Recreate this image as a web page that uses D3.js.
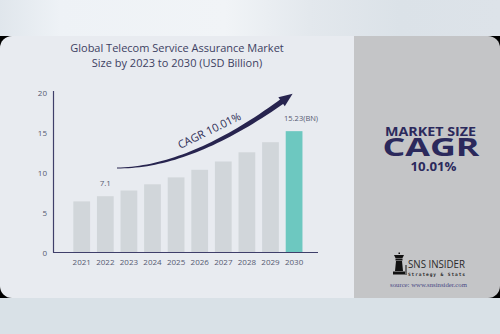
<!DOCTYPE html>
<html><head><meta charset="utf-8">
<script src="https://cdn.jsdelivr.net/npm/d3@7"></script>
<style>html,body{margin:0;padding:0;background:#dde3e9;}svg{display:block;}</style>
</head><body>
<script>
const years = ["2021","2022","2023","2024","2025","2026","2027","2028","2029","2030"];
const values = [6.45, 7.1, 7.81, 8.59, 9.45, 10.40, 11.44, 12.59, 13.85, 15.23];
const valueLabels = ["", "7.1", "", "", "", "", "", "", "", "15.23(BN)"];
const yTicks = [0, 5, 10, 15, 20];
const titleLines = ["Global Telecom Service Assurance Market", "Size by 2023 to 2030 (USD Billion)"];
const cagrText = "CAGR 10.01%";
const panelLines = ["MARKET SIZE", "CAGR", "10.01%"];

const W = 500, H = 334;
const svg = d3.select("body").append("svg").attr("width", W).attr("height", H);
const defs = svg.append("defs");

// background gradient
const bg = defs.append("linearGradient").attr("id","bg").attr("x1","0").attr("x2","1");
[["0","#e0e6ec"],["0.12","#eef2f6"],["0.45","#f1f4f7"],["0.62","#e3e8ed"],["0.8","#dbe2e8"],["1","#dde3e9"]]
  .forEach(s=>bg.append("stop").attr("offset",s[0]).attr("stop-color",s[1]));
svg.append("rect").attr("width",W).attr("height",H).attr("fill","url(#bg)");
svg.append("rect").attr("y",298).attr("width",W).attr("height",36).attr("fill","#d9e1e7");

// card
const cardY = 36, cardH = 262;
svg.append("rect").attr("x",0).attr("y",cardY).attr("width",W).attr("height",cardH).attr("fill","#000");
defs.append("clipPath").attr("id","card").append("rect")
  .attr("x",0).attr("y",cardY).attr("width",W).attr("height",cardH).attr("rx",12).attr("ry",12);
const card = svg.append("g").attr("clip-path","url(#card)");
card.append("rect").attr("x",0).attr("y",cardY).attr("width",354).attr("height",cardH).attr("fill","#e8ebf0");
card.append("rect").attr("x",354).attr("y",cardY).attr("width",146).attr("height",cardH).attr("fill","#c4c5c7");

// title
const title = svg.append("text").attr("text-anchor","middle")
  .attr("font-family","'Open Sans', sans-serif").attr("font-size",11).attr("fill","#3d3f62");
titleLines.forEach((t,i)=>title.append("tspan").attr("x",177).attr("y",52 + i*14.5).text(t));

// scales
const y = d3.scaleLinear().domain([0,20]).range([253,93]);
const x = d3.scaleBand().domain(years).range([63.9, 311.9]).paddingInner(0.29).paddingOuter(0.4);

// y axis labels
const yAxis = svg.append("g").attr("transform","translate(53,0)")
  .call(d3.axisLeft(y).tickValues(yTicks).tickSize(0).tickPadding(6));
yAxis.select(".domain").remove();
yAxis.selectAll("text").attr("font-family","'Open Sans', sans-serif").attr("font-size",8).attr("fill","#555a70");

// bars
svg.append("g").selectAll("rect").data(years).join("rect")
  .attr("x", d=>x(d)).attr("width", x.bandwidth())
  .attr("y", (d,i)=>y(values[i])).attr("height", (d,i)=>y(0)-y(values[i]))
  .attr("fill", (d,i)=> i===years.length-1 ? "#6dc8c0" : "#d1d6da");

// axis lines
svg.append("line").attr("x1",53.5).attr("x2",53.5).attr("y1",91).attr("y2",252.5).attr("stroke","#3f3f6a").attr("stroke-width",1.2);
svg.append("line").attr("x1",53).attr("x2",318).attr("y1",252.5).attr("y2",252.5).attr("stroke","#3f3f6a").attr("stroke-width",1.2);

// x axis
const xAxis = svg.append("g").attr("transform","translate(0,253)")
  .call(d3.axisBottom(x).tickSize(0).tickPadding(6));
xAxis.select(".domain").remove();
xAxis.selectAll("text").attr("font-family","'Open Sans', sans-serif").attr("font-size",8).attr("fill","#555a70");

// value labels
svg.append("g").selectAll("text").data(years).join("text")
  .attr("x",(d,i)=> x(d)+x.bandwidth()/2 + (i===years.length-1 ? 7 : 0))
  .attr("y",(d,i)=> y(values[i]) - 10)
  .attr("text-anchor","middle").attr("font-family","'Open Sans', sans-serif")
  .attr("font-size",(d,i)=> i===years.length-1 ? 7.5 : 8)
  .attr("fill","#555a70").text((d,i)=>valueLabels[i]);

// CAGR arrow (tapered quadratic curve)
const S=[117,168], P=[190,168], E=[284,100], tip=[291,95];
function bez(t){return [(1-t)*(1-t)*S[0]+2*t*(1-t)*P[0]+t*t*E[0],(1-t)*(1-t)*S[1]+2*t*(1-t)*P[1]+t*t*E[1]];}
function der(t){return [2*(1-t)*(P[0]-S[0])+2*t*(E[0]-P[0]),2*(1-t)*(P[1]-S[1])+2*t*(E[1]-P[1])];}
const N=40, upper=[], lower=[];
for(let k=0;k<=N;k++){
  const t=k/N, p=bez(t), d=der(t), L=Math.hypot(d[0],d[1]);
  const nx=-d[1]/L, ny=d[0]/L, w=0.4+2.3*t;
  upper.push([p[0]+nx*w,p[1]+ny*w]); lower.push([p[0]-nx*w,p[1]-ny*w]);
}
const body = upper.concat(lower.reverse());
svg.append("path").attr("d", d3.line()(body)+"Z").attr("fill","#27244f");
// arrow head
const dE=der(1), LE=Math.hypot(dE[0],dE[1]), ux=dE[0]/LE, uy=dE[1]/LE, hw=5.5;
const head=[[tip[0]+ux*2,tip[1]+uy*2],[E[0]-uy*hw-ux*3,E[1]+ux*hw-uy*3],[E[0]+uy*hw-ux*3,E[1]-ux*hw-uy*3]];
svg.append("path").attr("d", d3.line()(head)+"Z").attr("fill","#27244f");

svg.append("text").attr("transform","translate(211,134) rotate(-26)")
  .attr("text-anchor","middle").attr("font-family","'Open Sans', sans-serif")
  .attr("font-size",11).attr("fill","#2d2b55").text(cagrText);

// right panel text
const pf = "'Open Sans', sans-serif";
svg.append("text").attr("x",430.5).attr("y",136).attr("text-anchor","middle").attr("font-family",pf)
  .attr("font-weight",700).attr("font-size",12.5).attr("fill","#2b295c")
  .attr("textLength",91).attr("lengthAdjust","spacingAndGlyphs").text(panelLines[0]);
svg.append("text").attr("x",431).attr("y",156).attr("text-anchor","middle").attr("font-family",pf)
  .attr("font-weight",700).attr("font-size",25.5).attr("fill","#2b295c")
  .attr("textLength",97).attr("lengthAdjust","spacingAndGlyphs").text(panelLines[1]);
svg.append("text").attr("x",433.5).attr("y",170.5).attr("text-anchor","middle").attr("font-family",pf)
  .attr("font-weight",700).attr("font-size",12.5).attr("fill","#2b295c")
  .attr("textLength",46).attr("lengthAdjust","spacingAndGlyphs").text(panelLines[2]);

// logo
const logo = svg.append("g").attr("fill","#111");
logo.append("path").attr("d","M398.5,252.5 h1.5 v1.5 h-1.5 Z M394,255 h10 l-1.5,3 h-7 Z M395.5,258.5 h7 v2 h-7 Z M396,261 h6 l1,10 h-8 Z M393,271.5 h12 v3 h-12 Z");
logo.append("rect").attr("x",405.5).attr("y",265).attr("width",1).attr("height",10);
logo.append("text").attr("x",408).attr("y",268).attr("font-family","'Open Sans', sans-serif")
  .attr("font-size",11).attr("fill","#2a2a2a").attr("textLength",57).attr("lengthAdjust","spacingAndGlyphs").text("SNS INSIDER");
logo.append("text").attr("x",408).attr("y",275.5).attr("font-family","'DejaVu Sans Mono', monospace")
  .attr("font-weight","bold").attr("font-size",4.5).attr("fill","#2a2a2a").attr("textLength",57).attr("lengthAdjust","spacing").text("Strategy & Stats");
svg.append("text").attr("x",428.5).attr("y",286.5).attr("text-anchor","middle").attr("font-family","'Liberation Serif', serif")
  .attr("font-size",6.5).attr("fill","#4a4a85").attr("textLength",77).attr("lengthAdjust","spacingAndGlyphs").text("source: www.snsinsider.com");
</script>
</body></html>
